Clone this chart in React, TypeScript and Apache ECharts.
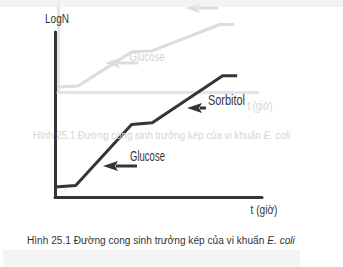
import React, { useEffect, useRef } from "react";
import * as echarts from "echarts";

// Growth curve (diauxic growth): time (0..100) vs logN (0..100)
const timeValues = [0, 10, 37, 47, 81, 88];
const logNValues = [6, 7, 44, 45, 73.5, 73.5];
const axisNames = { y: "LogN", x: "t (giờ)" };
const curveLabels = ["Glucose", "Sorbitol"];
const captionMain = "Hình 25.1 Đường cong sinh trưởng kép của vi khuẩn ";
const captionItalic = "E. coli";

const FONT = "'Liberation Sans', Arial, sans-serif";
const DARK = "#353535";
const GHOST = "#dcdcdc";
const GHOST_AXIS = "#e4e4e4";
const GHOST_TEXT = "#d4d4d4";

let measureCtx: CanvasRenderingContext2D | null = null;
function measure(t: string, size: number, italic = false) {
  if (!measureCtx) measureCtx = document.createElement("canvas").getContext("2d");
  if (!measureCtx) return t.length * size * 0.5;
  measureCtx.font = `${italic ? "italic " : ""}${size}px ${FONT}`;
  return measureCtx.measureText(t).width;
}

function arrow(tipX: number, tipY: number, tailX: number, color: string, head = 15, half = 5, w = 3) {
  return [
    {
      type: "line",
      z: 20,
      shape: { x1: tipX + head - 2, y1: tipY, x2: tailX, y2: tipY },
      style: { stroke: color, lineWidth: w },
      silent: true,
    },
    {
      type: "polygon",
      z: 20,
      shape: { points: [[tipX, tipY], [tipX + head, tipY - half], [tipX + head - 3, tipY], [tipX + head, tipY + half]] },
      style: { fill: color },
      silent: true,
    },
  ];
}

// text squeezed horizontally to mimic the condensed font of the original
function text(cx: number, cy: number, t: string, color: string, size: number, width: number) {
  return {
    type: "text",
    z: 20,
    x: cx,
    y: cy,
    scaleX: width / measure(t, size),
    silent: true,
    style: { text: t, fill: color, fontSize: size, fontFamily: FONT, align: "center", verticalAlign: "middle" },
  };
}

function caption(left: number, cy: number, width: number, size: number, color: string) {
  const w = measure(captionMain, size) + measure(captionItalic, size, true);
  return {
    type: "text",
    z: 20,
    x: left,
    y: cy,
    scaleX: width / w,
    silent: true,
    style: {
      text: "{a|" + captionMain + "}{b|" + captionItalic + "}",
      fill: color,
      align: "left",
      verticalAlign: "middle",
      rich: {
        a: { fontSize: size, fontFamily: FONT, fill: color },
        b: { fontSize: size, fontFamily: FONT, fontStyle: "italic", fill: color },
      },
    },
  };
}

export default function App() {
  const ref = useRef<HTMLDivElement>(null);
  useEffect(() => {
    if (!ref.current) return;
    const chart = echarts.init(ref.current, null, { renderer: "svg" });
    const data = timeValues.map((t, i) => [t, logNValues[i]]);
    const axisCommon = (color: string) => ({
      type: "value",
      min: 0,
      max: 100,
      axisLine: { show: true, lineStyle: { color, width: 3 } },
      axisTick: { show: false },
      axisLabel: { show: false },
      splitLine: { show: false },
    });
    chart.setOption({
      animation: false,
      backgroundColor: "#ffffff",
      grid: [
        { left: 58, top: -66, width: 200, height: 158.5 },
        { left: 55, top: 32, width: 207, height: 165 },
      ],
      xAxis: [
        { ...axisCommon(GHOST_AXIS), gridIndex: 0 },
        { ...axisCommon(DARK), gridIndex: 1 },
      ],
      yAxis: [
        { ...axisCommon(GHOST_AXIS), gridIndex: 0 },
        { ...axisCommon(DARK), gridIndex: 1 },
      ],
      series: [
        {
          type: "line",
          xAxisIndex: 0,
          yAxisIndex: 0,
          data,
          symbol: "none",
          lineStyle: { color: GHOST, width: 3 },
          z: 1,
        },
        {
          type: "line",
          xAxisIndex: 1,
          yAxisIndex: 1,
          data,
          symbol: "none",
          lineStyle: { color: DARK, width: 3 },
          z: 3,
        },
      ],
      graphic: [
        // ghost annotations
        text(147, 56, curveLabels[0], GHOST_TEXT, 13.5, 35),
        ...arrow(105, 63, 138, GHOST),
        ...arrow(185, 8, 218, GHOST),
        text(260, 106, axisNames.x, GHOST_TEXT, 12, 25),
        caption(33, 135, 257, 11, GHOST_TEXT),
        // top band
        { type: "rect", z: 30, shape: { x: 0, y: 0, width: 343, height: 7 }, style: { fill: "rgba(238,238,238,0.7)" }, silent: true },
        // bottom band
        { type: "rect", shape: { x: 3, y: 250, width: 297, height: 17 }, style: { fill: "#f4f4f4" }, silent: true },
        // main annotations
        text(57, 19, axisNames.y, DARK, 12, 24),
        text(264, 210, axisNames.x, DARK, 12.5, 27),
        text(147.5, 156, curveLabels[0], DARK, 14, 35),
        ...arrow(103, 166, 137, DARK),
        text(226.5, 101, curveLabels[1], DARK, 14, 37),
        ...arrow(187, 108, 206, DARK),
        caption(27, 240, 268, 11.5, "#333333"),
      ],
    });
    return () => chart.dispose();
  }, []);
  return (
    <div
      ref={ref}
      style={{ position: "fixed", left: 0, top: 0, width: 343, height: 267, background: "#fff" }}
    />
  );
}
